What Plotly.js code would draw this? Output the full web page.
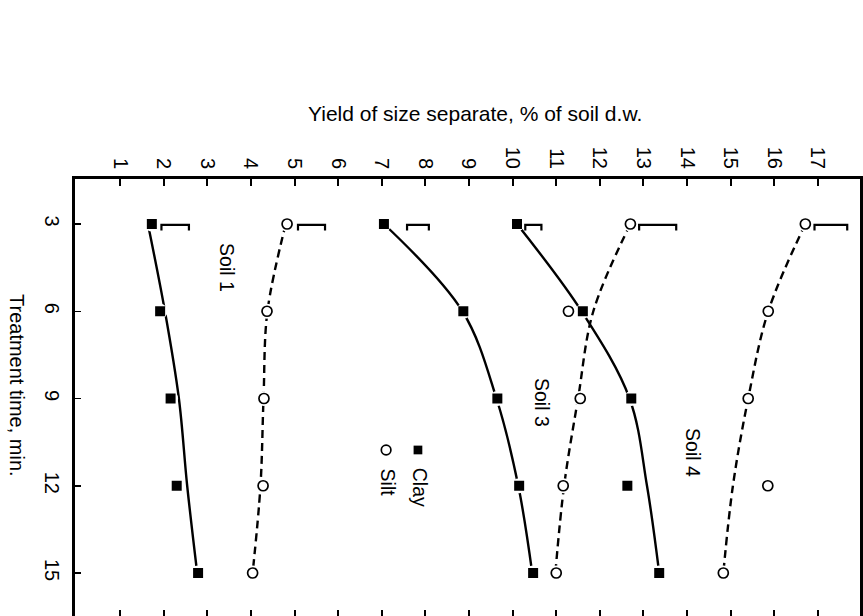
<!DOCTYPE html>
<html>
<head>
<meta charset="utf-8">
<script src="https://cdn.plot.ly/plotly-3.0.1.min.js"></script>
<style>html,body{margin:0;padding:0;background:#fff;overflow:hidden}#chart{width:863px;height:616px}</style>
</head>
<body>
<div id="chart"></div>
<script>
// Treatment time, min.
const times = [3, 6, 9, 12, 15];
// Measured yields (% of soil d.w.)
const soil1Clay = [1.73, 1.92, 2.16, 2.30, 2.79];
const soil1Silt = [4.83, 4.37, 4.30, 4.28, 4.04];
const soil3Clay = [7.05, 8.87, 9.65, 10.15, 10.47];
const soil3Silt = [12.70, 11.28, 11.55, 11.16, 11.00];
const soil4Clay = [10.10, 11.61, 12.72, 12.63, 13.36];
const soil4Silt = [16.71, 15.86, 15.40, 15.85, 14.83];
// Fitted curves
const soil1ClayFit = [1.64, 2.03, 2.35, 2.54, 2.77];
const soil1SiltFit = [4.80, 4.38, 4.29, 4.22, 4.04];
const soil3ClayFit = [7.05, 8.85, 9.63, 10.13, 10.45];
const soil3SiltFit = [12.70, 11.85, 11.50, 11.18, 10.98];
const soil4ClayFit = [10.10, 11.58, 12.68, 13.08, 13.36];
const soil4SiltFit = [16.71, 15.86, 15.40, 15.05, 14.83];
// LSD brackets at 3 min (start value, end value)
const lsdStart = [1.95, 5.08, 7.58, 10.29, 12.90, 16.92];
const lsdEnd   = [2.58, 5.70, 8.08, 10.66, 13.75, 17.67];
// Tick labels
const yieldTicks = [1,2,3,4,5,6,7,8,9,10,11,12,13,14,15,16,17];
const timeTicks = [3, 6, 9, 12, 15];

const FONT = 'Liberation Sans, Arial, Helvetica, sans-serif';
const traces = [];
const clayFits = [soil1ClayFit, soil3ClayFit, soil4ClayFit];
const siltFits = [soil1SiltFit, soil3SiltFit, soil4SiltFit];
const clays = [soil1Clay, soil3Clay, soil4Clay];
const silts = [soil1Silt, soil3Silt, soil4Silt];

clayFits.forEach(f => traces.push({x: f, y: times, mode: 'lines', type: 'scatter',
  line: {color: '#000', width: 2.4, shape: 'spline', smoothing: 1}, hoverinfo: 'skip', showlegend: false}));
siltFits.forEach(f => traces.push({x: f, y: times, mode: 'lines', type: 'scatter',
  line: {color: '#000', width: 2.4, shape: 'spline', smoothing: 1, dash: '8px,5px'}, hoverinfo: 'skip', showlegend: false}));

// white halos so lines stop short of the markers
clays.concat(silts).forEach(s => traces.push({x: s, y: times, mode: 'markers', type: 'scatter',
  marker: {symbol: 'circle', size: 15, color: '#fff'}, hoverinfo: 'skip', showlegend: false}));

clays.forEach(s => traces.push({x: s, y: times, mode: 'markers', type: 'scatter',
  marker: {symbol: 'square', size: 10, color: '#000'}, showlegend: false}));
silts.forEach(s => traces.push({x: s, y: times, mode: 'markers', type: 'scatter',
  marker: {symbol: 'circle', size: 10, color: '#fff', line: {color: '#000', width: 1.7}}, showlegend: false}));

// LSD brackets
for (let i = 0; i < lsdStart.length; i++) {
  const t0 = times[0];
  traces.push({x: [lsdStart[i], lsdStart[i], lsdEnd[i], lsdEnd[i]],
    y: [t0 + 0.22, t0 + 0.03, t0 + 0.03, t0 + 0.22], mode: 'lines', type: 'scatter',
    line: {color: '#000', width: 2.2}, hoverinfo: 'skip', showlegend: false});
}
// empty trace to carry the bottom tick axis
traces.push({x: [], y: [], xaxis: 'x2', yaxis: 'y', type: 'scatter', mode: 'markers', showlegend: false});

const xRange = [-0.0315, 17.963];
const yRange = [16.4785, 1.4527];

const layout = {
  width: 863, height: 616,
  margin: {l: 75, r: 3, t: 179, b: 0, pad: 0},
  paper_bgcolor: '#fff', plot_bgcolor: '#fff',
  font: {family: FONT, size: 19, color: '#000'},
  showlegend: false,
  xaxis: {
    range: xRange, side: 'top', tickvals: yieldTicks, ticktext: yieldTicks.map(String),
    tickangle: 90, ticks: 'inside', ticklen: 7, tickwidth: 2, tickcolor: '#000',
    showline: true, linewidth: 3, linecolor: '#000', mirror: false,
    showgrid: false, zeroline: false, tickfont: {family: FONT, size: 20, color: '#000'},
    ticklabelstandoff: 0, fixedrange: true
  },
  xaxis2: {
    range: xRange, overlaying: 'x', side: 'bottom', tickvals: yieldTicks,
    ticks: 'inside', ticklen: 6, tickwidth: 2, tickcolor: '#000',
    showticklabels: false, showline: false, showgrid: false, zeroline: false
  },
  yaxis: {
    range: yRange, tickvals: timeTicks, ticktext: timeTicks.map(String),
    tickangle: 90, ticks: 'inside', ticklen: 6, tickwidth: 1.5, tickcolor: '#000',
    showline: true, linewidth: 3, linecolor: '#000', mirror: true,
    showgrid: false, zeroline: false, tickfont: {family: FONT, size: 20, color: '#000'},
    ticklabelstandoff: 3, fixedrange: true
  },
  annotations: [
    {text: 'Yield of size separate, % of soil d.w.', xref: 'paper', yref: 'paper',
     x: 0.5096, y: (616 - 114) / 437, xanchor: 'center', yanchor: 'middle', showarrow: false,
     font: {family: FONT, size: 21, color: '#000'}},
    {text: 'Treatment time, min.', xref: 'paper', yref: 'paper', textangle: 90,
     x: (17 - 75) / 785, y: (616 - 385) / 437, xanchor: 'center', yanchor: 'middle', showarrow: false,
     font: {family: FONT, size: 20, color: '#000'}},
    {text: 'Soil 1', xref: 'x', yref: 'y', x: 3.45, y: 4.51, textangle: 90, showarrow: false,
     xanchor: 'center', yanchor: 'middle', font: {family: FONT, size: 19.5, color: '#000'}},
    {text: 'Soil 3', xref: 'x', yref: 'y', x: 10.67, y: 9.15, textangle: 90, showarrow: false,
     xanchor: 'center', yanchor: 'middle', font: {family: FONT, size: 19.5, color: '#000'}},
    {text: 'Soil 4', xref: 'x', yref: 'y', x: 14.13, y: 10.87, textangle: 90, showarrow: false,
     xanchor: 'center', yanchor: 'middle', font: {family: FONT, size: 19.5, color: '#000'}},
    {text: 'Clay', xref: 'x', yref: 'y', x: 7.88, y: 12.04, textangle: 90, showarrow: false,
     xanchor: 'center', yanchor: 'middle', font: {family: FONT, size: 19.5, color: '#000'}},
    {text: 'Silt', xref: 'x', yref: 'y', x: 7.15, y: 11.9, textangle: 90, showarrow: false,
     xanchor: 'center', yanchor: 'middle', font: {family: FONT, size: 19.5, color: '#000'}}
  ],
  shapes: [
    {type: 'rect', xref: 'x', yref: 'y', x0: 7.83 - 0.1, x1: 7.83 + 0.1, y0: 10.77 - 0.15, y1: 10.77 + 0.15,
     fillcolor: '#000', line: {width: 0}},
    {type: 'circle', xref: 'x', yref: 'y', x0: 7.10 - 0.11, x1: 7.10 + 0.11, y0: 10.77 - 0.17, y1: 10.77 + 0.17,
     fillcolor: '#fff', line: {color: '#000', width: 1.7}}
  ]
};

Plotly.newPlot('chart', traces, layout, {displayModeBar: false, staticPlot: true});
</script>
</body>
</html>
